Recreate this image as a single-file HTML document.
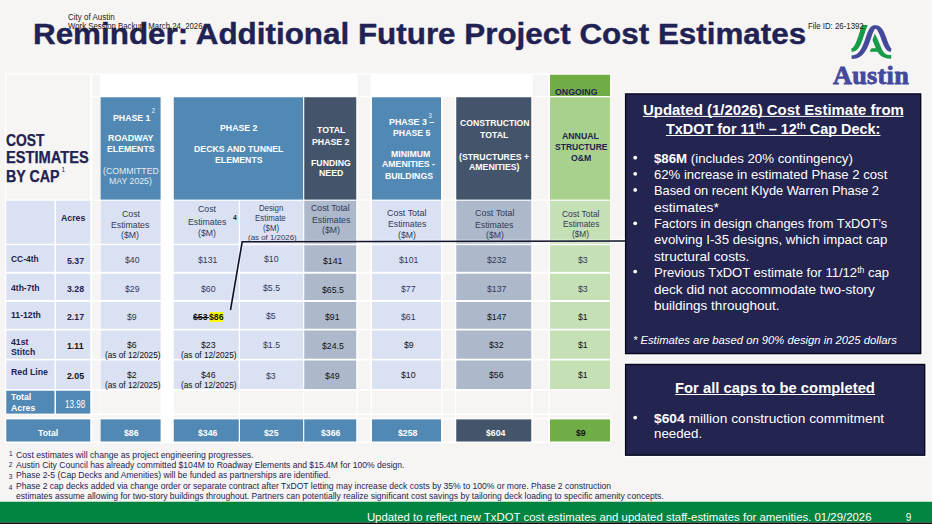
<!DOCTYPE html>
<html lang="en"><head><meta charset="utf-8"><title>Reminder: Additional Future Project Cost Estimates</title>
<style>
html,body{margin:0;padding:0;}
body{width:932px;height:524px;overflow:hidden;background:#f6f5f3;font-family:"Liberation Sans",sans-serif;position:relative;}
#slide{position:absolute;left:0;top:0;width:932px;height:524px;overflow:hidden;background:#f6f5f3;}
.b{position:absolute;}
.t{position:absolute;white-space:nowrap;line-height:1;transform-origin:0 0;}
.t sup{font-size:66%;vertical-align:baseline;position:relative;top:-0.5em;line-height:0;}
</style></head><body><div id="slide">
<svg id="shapes" style="position:absolute;left:0;top:0" width="932" height="524" viewBox="0 0 932 524">
<rect x="5" y="73.5" width="605.3" height="369.5" fill="#ffffff"/>
<rect x="6.25" y="74.75" width="84" height="124.85" fill="#f6f5f3"/>
<rect x="92.2" y="74.75" width="7.8" height="21.25" fill="#f6f5f3"/>
<rect x="357.75" y="74.75" width="12.75" height="21.25" fill="#f6f5f3"/>
<rect x="532.75" y="74.75" width="15.75" height="21.25" fill="#f6f5f3"/>
<rect x="92.2" y="97.25" width="7.8" height="102.35" fill="#f6f5f3"/>
<rect x="357.75" y="97.25" width="12.75" height="102.35" fill="#f6f5f3"/>
<rect x="442.5" y="97.25" width="12.5" height="102.35" fill="#f6f5f3"/>
<rect x="532.75" y="97.25" width="15.75" height="102.35" fill="#f6f5f3"/>
<rect x="92.2" y="200.75" width="7.8" height="43" fill="#f6f5f3"/>
<rect x="357.75" y="200.75" width="12.75" height="43" fill="#f6f5f3"/>
<rect x="442.5" y="200.75" width="12.5" height="43" fill="#f6f5f3"/>
<rect x="532.75" y="200.75" width="15.75" height="43" fill="#f6f5f3"/>
<rect x="92.2" y="245.2" width="7.8" height="26.6" fill="#f6f5f3"/>
<rect x="357.75" y="245.2" width="12.75" height="26.6" fill="#f6f5f3"/>
<rect x="442.5" y="245.2" width="12.5" height="26.6" fill="#f6f5f3"/>
<rect x="532.75" y="245.2" width="15.75" height="26.6" fill="#f6f5f3"/>
<rect x="92.2" y="273.75" width="7.8" height="26.25" fill="#f6f5f3"/>
<rect x="357.75" y="273.75" width="12.75" height="26.25" fill="#f6f5f3"/>
<rect x="442.5" y="273.75" width="12.5" height="26.25" fill="#f6f5f3"/>
<rect x="532.75" y="273.75" width="15.75" height="26.25" fill="#f6f5f3"/>
<rect x="92.2" y="302" width="7.8" height="26.75" fill="#f6f5f3"/>
<rect x="357.75" y="302" width="12.75" height="26.75" fill="#f6f5f3"/>
<rect x="442.5" y="302" width="12.5" height="26.75" fill="#f6f5f3"/>
<rect x="532.75" y="302" width="15.75" height="26.75" fill="#f6f5f3"/>
<rect x="92.2" y="330.5" width="7.8" height="28.25" fill="#f6f5f3"/>
<rect x="357.75" y="330.5" width="12.75" height="28.25" fill="#f6f5f3"/>
<rect x="442.5" y="330.5" width="12.5" height="28.25" fill="#f6f5f3"/>
<rect x="532.75" y="330.5" width="15.75" height="28.25" fill="#f6f5f3"/>
<rect x="92.2" y="360.5" width="7.8" height="28.5" fill="#f6f5f3"/>
<rect x="357.75" y="360.5" width="12.75" height="28.5" fill="#f6f5f3"/>
<rect x="442.5" y="360.5" width="12.5" height="28.5" fill="#f6f5f3"/>
<rect x="532.75" y="360.5" width="15.75" height="28.5" fill="#f6f5f3"/>
<rect x="92.2" y="390.75" width="7.8" height="22.85" fill="#f6f5f3"/>
<rect x="357.75" y="390.75" width="12.75" height="22.85" fill="#f6f5f3"/>
<rect x="442.5" y="390.75" width="12.5" height="22.85" fill="#f6f5f3"/>
<rect x="532.75" y="390.75" width="15.75" height="22.85" fill="#f6f5f3"/>
<rect x="92.2" y="415" width="7.8" height="2.75" fill="#f6f5f3"/>
<rect x="357.75" y="415" width="12.75" height="2.75" fill="#f6f5f3"/>
<rect x="442.5" y="415" width="12.5" height="2.75" fill="#f6f5f3"/>
<rect x="532.75" y="415" width="15.75" height="2.75" fill="#f6f5f3"/>
<rect x="92.2" y="419.4" width="7.8" height="22.1" fill="#f6f5f3"/>
<rect x="357.75" y="419.4" width="12.75" height="22.1" fill="#f6f5f3"/>
<rect x="442.5" y="419.4" width="12.5" height="22.1" fill="#f6f5f3"/>
<rect x="532.75" y="419.4" width="15.75" height="22.1" fill="#f6f5f3"/>
<rect x="100.6" y="390.75" width="60" height="22.85" fill="#f6f5f3"/>
<rect x="173.75" y="390.75" width="65" height="22.85" fill="#f6f5f3"/>
<rect x="240" y="390.75" width="63.1" height="22.85" fill="#f6f5f3"/>
<rect x="304.25" y="390.75" width="52" height="22.85" fill="#f6f5f3"/>
<rect x="372" y="390.75" width="69" height="22.85" fill="#f6f5f3"/>
<rect x="456.25" y="390.75" width="75" height="22.85" fill="#f6f5f3"/>
<rect x="550" y="390.75" width="60" height="22.85" fill="#f6f5f3"/>
<rect x="100.6" y="415" width="60" height="2.75" fill="#f6f5f3"/>
<rect x="173.75" y="415" width="65" height="2.75" fill="#f6f5f3"/>
<rect x="240" y="415" width="63.1" height="2.75" fill="#f6f5f3"/>
<rect x="304.25" y="415" width="52" height="2.75" fill="#f6f5f3"/>
<rect x="372" y="415" width="69" height="2.75" fill="#f6f5f3"/>
<rect x="456.25" y="415" width="75" height="2.75" fill="#f6f5f3"/>
<rect x="550" y="415" width="60" height="2.75" fill="#f6f5f3"/>
<rect x="6.25" y="415" width="84" height="2.75" fill="#f6f5f3"/>
<rect x="100.6" y="97.25" width="60" height="102.35" fill="#5189b4"/>
<rect x="173.75" y="97.25" width="129.35" height="102.35" fill="#5189b4"/>
<rect x="304.25" y="97.25" width="52" height="102.35" fill="#44546a"/>
<rect x="372" y="97.25" width="69" height="102.35" fill="#5189b4"/>
<rect x="456.25" y="97.25" width="75" height="102.35" fill="#44546a"/>
<rect x="550" y="74.75" width="60" height="21.25" fill="#70ad47"/>
<rect x="550" y="97.25" width="60" height="102.35" fill="#a9d18e"/>
<rect x="6.25" y="200.75" width="48.25" height="43" fill="#dae1f3"/>
<rect x="56" y="200.75" width="34.25" height="43" fill="#dae1f3"/>
<rect x="100.6" y="200.75" width="60" height="43" fill="#dae1f3"/>
<rect x="173.75" y="200.75" width="65" height="43" fill="#dae1f3"/>
<rect x="240" y="200.75" width="63.1" height="43" fill="#dae1f3"/>
<rect x="372" y="200.75" width="69" height="43" fill="#dae1f3"/>
<rect x="304.25" y="200.75" width="52" height="43" fill="#adb9ca"/>
<rect x="456.25" y="200.75" width="75" height="43" fill="#adb9ca"/>
<rect x="550" y="200.75" width="60" height="43" fill="#c5e0b4"/>
<rect x="6.25" y="245.2" width="48.25" height="26.6" fill="#dae1f3"/>
<rect x="56" y="245.2" width="34.25" height="26.6" fill="#dae1f3"/>
<rect x="100.6" y="245.2" width="60" height="26.6" fill="#dae1f3"/>
<rect x="173.75" y="245.2" width="65" height="26.6" fill="#dae1f3"/>
<rect x="240" y="245.2" width="63.1" height="26.6" fill="#dae1f3"/>
<rect x="372" y="245.2" width="69" height="26.6" fill="#dae1f3"/>
<rect x="304.25" y="245.2" width="52" height="26.6" fill="#adb9ca"/>
<rect x="456.25" y="245.2" width="75" height="26.6" fill="#adb9ca"/>
<rect x="550" y="245.2" width="60" height="26.6" fill="#c5e0b4"/>
<rect x="6.25" y="273.75" width="48.25" height="26.25" fill="#dae1f3"/>
<rect x="56" y="273.75" width="34.25" height="26.25" fill="#dae1f3"/>
<rect x="100.6" y="273.75" width="60" height="26.25" fill="#dae1f3"/>
<rect x="173.75" y="273.75" width="65" height="26.25" fill="#dae1f3"/>
<rect x="240" y="273.75" width="63.1" height="26.25" fill="#dae1f3"/>
<rect x="372" y="273.75" width="69" height="26.25" fill="#dae1f3"/>
<rect x="304.25" y="273.75" width="52" height="26.25" fill="#adb9ca"/>
<rect x="456.25" y="273.75" width="75" height="26.25" fill="#adb9ca"/>
<rect x="550" y="273.75" width="60" height="26.25" fill="#c5e0b4"/>
<rect x="6.25" y="302" width="48.25" height="26.75" fill="#dae1f3"/>
<rect x="56" y="302" width="34.25" height="26.75" fill="#dae1f3"/>
<rect x="100.6" y="302" width="60" height="26.75" fill="#dae1f3"/>
<rect x="173.75" y="302" width="65" height="26.75" fill="#dae1f3"/>
<rect x="240" y="302" width="63.1" height="26.75" fill="#dae1f3"/>
<rect x="372" y="302" width="69" height="26.75" fill="#dae1f3"/>
<rect x="304.25" y="302" width="52" height="26.75" fill="#adb9ca"/>
<rect x="456.25" y="302" width="75" height="26.75" fill="#adb9ca"/>
<rect x="550" y="302" width="60" height="26.75" fill="#c5e0b4"/>
<rect x="6.25" y="330.5" width="48.25" height="28.25" fill="#dae1f3"/>
<rect x="56" y="330.5" width="34.25" height="28.25" fill="#dae1f3"/>
<rect x="100.6" y="330.5" width="60" height="28.25" fill="#dae1f3"/>
<rect x="173.75" y="330.5" width="65" height="28.25" fill="#dae1f3"/>
<rect x="240" y="330.5" width="63.1" height="28.25" fill="#dae1f3"/>
<rect x="372" y="330.5" width="69" height="28.25" fill="#dae1f3"/>
<rect x="304.25" y="330.5" width="52" height="28.25" fill="#adb9ca"/>
<rect x="456.25" y="330.5" width="75" height="28.25" fill="#adb9ca"/>
<rect x="550" y="330.5" width="60" height="28.25" fill="#c5e0b4"/>
<rect x="6.25" y="360.5" width="48.25" height="28.5" fill="#dae1f3"/>
<rect x="56" y="360.5" width="34.25" height="28.5" fill="#dae1f3"/>
<rect x="100.6" y="360.5" width="60" height="28.5" fill="#dae1f3"/>
<rect x="173.75" y="360.5" width="65" height="28.5" fill="#dae1f3"/>
<rect x="240" y="360.5" width="63.1" height="28.5" fill="#dae1f3"/>
<rect x="372" y="360.5" width="69" height="28.5" fill="#dae1f3"/>
<rect x="304.25" y="360.5" width="52" height="28.5" fill="#adb9ca"/>
<rect x="456.25" y="360.5" width="75" height="28.5" fill="#adb9ca"/>
<rect x="550" y="360.5" width="60" height="28.5" fill="#c5e0b4"/>
<rect x="6.25" y="390.75" width="48.25" height="22.85" fill="#5189b4"/>
<rect x="56" y="390.75" width="34.25" height="22.85" fill="#5189b4"/>
<rect x="6.25" y="419.4" width="84" height="22.1" fill="#5189b4"/>
<rect x="100.6" y="419.4" width="60" height="22.1" fill="#5189b4"/>
<rect x="173.75" y="419.4" width="65" height="22.1" fill="#5189b4"/>
<rect x="240" y="419.4" width="63.1" height="22.1" fill="#5189b4"/>
<rect x="304.25" y="419.4" width="52" height="22.1" fill="#5189b4"/>
<rect x="372" y="419.4" width="69" height="22.1" fill="#5189b4"/>
<rect x="456.25" y="419.4" width="75" height="22.1" fill="#44546a"/>
<rect x="550" y="419.4" width="60" height="22.1" fill="#70ad47"/>
<rect x="623.65" y="91.95" width="299" height="263.6" fill="#ffffff"/>
<rect x="624.9" y="93.2" width="296.5" height="261.1" fill="#07081f"/>
<rect x="626.3" y="94.6" width="293.7" height="258.3" fill="#23244f"/>
<rect x="623.65" y="362.5" width="303" height="94.65" fill="#ffffff"/>
<rect x="624.9" y="363.75" width="300.5" height="92.15" fill="#07081f"/>
<rect x="626.3" y="365.15" width="297.7" height="89.35" fill="#23244f"/>
<rect x="642.8" y="115.9" width="260.8" height="1" fill="#ffffff"/>
<rect x="665.9" y="135" width="214.6" height="1" fill="#ffffff"/>
<ellipse cx="635.2" cy="157.7" rx="1.9" ry="1.9" fill="#ffffff"/>
<ellipse cx="635.2" cy="173.8" rx="1.9" ry="1.9" fill="#ffffff"/>
<ellipse cx="635.2" cy="189.9" rx="1.9" ry="1.9" fill="#ffffff"/>
<ellipse cx="635.2" cy="223.3" rx="1.9" ry="1.9" fill="#ffffff"/>
<ellipse cx="635.2" cy="271.6" rx="1.9" ry="1.9" fill="#ffffff"/>
<rect x="675.2" y="394" width="199.9" height="1" fill="#ffffff"/>
<ellipse cx="635.2" cy="417.6" rx="1.9" ry="1.9" fill="#ffffff"/>
<rect x="0" y="501.75" width="932" height="20.75" fill="#00843f"/>
<rect x="0" y="522.5" width="932" height="1.5" fill="#111111"/>
</svg>
<svg style="position:absolute;left:0;top:0" width="932" height="524" viewBox="0 0 932 524">
<polyline points="230.5,310 242.2,241.8 625,241.0" fill="none" stroke="#ffffff" stroke-opacity="0.3" stroke-width="3.8"/>
<polyline points="610.3,241.03 625,241.0" fill="none" stroke="#ffffff" stroke-width="4.0"/>
<polyline points="230.5,310 242.2,241.8 626,241.0" fill="none" stroke="#10112a" stroke-width="1.6"/>
<clipPath id="lgclip"><rect x="845" y="25" width="55" height="40"/></clipPath>
<g clip-path="url(#lgclip)">
<path d="M851.22,48.25 L851.98,48.16 L852.49,47.90 L852.95,47.51 L853.41,47.00 L853.87,46.38 L854.36,45.63 L854.86,44.76 L855.36,43.77 L855.87,42.67 L856.38,41.47 L856.88,40.19 L857.38,38.83 L857.87,37.41 L858.36,35.94 L858.85,34.44 L859.34,32.91 L859.85,31.38 L860.36,29.84 L860.90,28.32 L861.45,26.82 L862.03,25.36 L862.65,23.94 L863.31,22.58 L863.98,21.34 L868.42,23.66 L867.84,24.81 L867.32,26.00 L866.81,27.28 L866.30,28.64 L865.80,30.05 L865.30,31.51 L864.81,33.01 L864.31,34.53 L863.82,36.06 L863.31,37.59 L862.79,39.11 L862.25,40.61 L861.69,42.07 L861.09,43.48 L860.46,44.83 L859.78,46.12 L859.03,47.33 L858.22,48.44 L857.31,49.44 L856.30,50.29 L855.18,50.98 L853.97,51.47 L852.71,51.76 L851.58,51.85Z" fill="#169b48"/>
<path d="M871.51,28.15 L872.21,29.16 L872.99,30.38 L873.78,31.74 L874.60,33.21 L875.42,34.78 L876.24,36.42 L877.05,38.10 L877.84,39.80 L878.61,41.50 L879.33,43.16 L880.00,44.75 L880.59,46.24 L880.94,47.12 L881.27,47.93 L881.60,48.68 L881.93,49.37 L882.26,50.00 L882.58,50.58 L882.90,51.12 L883.22,51.61 L883.54,52.06 L883.87,52.47 L884.20,52.85 L884.55,53.19 L884.92,53.51 L885.31,53.80 L885.73,54.05 L886.18,54.28 L886.67,54.48 L887.20,54.66 L887.77,54.80 L888.37,54.91 L889.02,54.99 L889.70,55.05 L890.43,55.09 L891.22,55.10 L891.18,58.70 L890.33,58.69 L889.48,58.65 L888.66,58.59 L887.87,58.51 L887.09,58.40 L886.33,58.25 L885.58,58.07 L884.85,57.86 L884.14,57.61 L883.43,57.32 L882.75,56.99 L882.08,56.61 L881.42,56.18 L880.79,55.69 L880.19,55.16 L879.61,54.58 L879.06,53.94 L878.53,53.26 L878.03,52.53 L877.55,51.75 L877.09,50.92 L876.65,50.05 L876.22,49.12 L875.81,48.16 L875.23,46.69 L874.60,45.15 L873.92,43.55 L873.20,41.91 L872.45,40.26 L871.69,38.63 L870.92,37.05 L870.16,35.54 L869.43,34.14 L868.73,32.88 L868.10,31.79 L867.49,30.85Z" fill="#169b48"/>
<path d="M871.3,48.15 L880,48.15 L881,51.75 L869.7,51.75Z" fill="#169b48"/>
<path d="M851.32,53.41 L853.11,53.27 L854.39,52.91 L855.48,52.35 L856.45,51.62 L857.34,50.73 L858.18,49.68 L859.00,48.48 L859.78,47.12 L860.53,45.62 L861.24,44.01 L861.92,42.30 L862.57,40.53 L863.20,38.71 L863.82,36.88 L864.43,35.06 L865.07,33.27 L865.75,31.52 L866.49,29.84 L867.34,28.23 L868.38,26.71 L869.68,25.33 L871.34,24.19 L873.35,23.45 L875.43,23.20 L877.37,23.38 L879.15,23.90 L880.72,24.73 L882.06,25.77 L883.18,26.97 L884.14,28.26 L884.97,29.63 L885.71,31.05 L886.38,32.50 L886.99,33.97 L887.57,35.45 L888.11,36.92 L888.64,38.35 L889.14,39.73 L889.63,41.04 L890.10,42.25 L890.56,43.33 L890.98,44.26 L891.35,45.01 L891.62,45.55 L891.76,45.90 L891.70,46.08 L891.47,46.17 L891.74,46.22 L890.66,53.78 L889.32,53.60 L887.57,53.02 L886.09,52.12 L884.89,51.04 L883.91,49.84 L883.08,48.56 L882.36,47.22 L881.71,45.83 L881.11,44.41 L880.55,42.96 L880.01,41.52 L879.49,40.08 L878.98,38.68 L878.47,37.33 L877.97,36.06 L877.48,34.88 L877.00,33.83 L876.55,32.92 L876.15,32.19 L875.83,31.63 L875.62,31.25 L875.53,31.00 L875.53,30.86 L875.57,30.80 L875.63,30.86 L875.81,31.00 L875.81,31.26 L875.59,31.76 L875.22,32.54 L874.76,33.60 L874.26,34.90 L873.71,36.39 L873.15,38.05 L872.54,39.84 L871.90,41.72 L871.20,43.67 L870.44,45.67 L869.58,47.67 L868.61,49.67 L867.50,51.62 L866.24,53.51 L864.78,55.28 L863.10,56.90 L861.19,58.31 L859.07,59.46 L856.74,60.31 L854.24,60.82 L851.88,60.99Z" fill="#f6f5f3"/>
<path d="M851.47,55.40 L853.41,55.25 L854.99,54.81 L856.38,54.13 L857.61,53.25 L858.70,52.19 L859.71,50.98 L860.64,49.62 L861.51,48.13 L862.31,46.52 L863.07,44.81 L863.78,43.04 L864.45,41.21 L865.09,39.37 L865.71,37.52 L866.33,35.71 L866.95,33.95 L867.60,32.26 L868.31,30.66 L869.10,29.19 L870.02,27.86 L871.12,26.72 L872.44,25.86 L873.94,25.36 L875.47,25.20 L876.90,25.32 L878.24,25.68 L879.49,26.30 L880.60,27.14 L881.58,28.16 L882.43,29.31 L883.20,30.56 L883.89,31.89 L884.53,33.28 L885.13,34.71 L885.69,36.16 L886.23,37.61 L886.76,39.04 L887.27,40.44 L887.77,41.77 L888.26,43.03 L888.75,44.19 L889.22,45.21 L889.67,46.10 L890.07,46.82 L890.41,47.38 L890.68,47.80 L890.91,48.09 L891.46,48.20 L890.94,51.80 L889.87,51.68 L888.59,51.30 L887.44,50.64 L886.44,49.78 L885.59,48.75 L884.84,47.60 L884.17,46.36 L883.55,45.04 L882.97,43.67 L882.42,42.26 L881.89,40.83 L881.37,39.39 L880.85,37.98 L880.33,36.60 L879.81,35.28 L879.29,34.04 L878.77,32.90 L878.25,31.88 L877.75,31.00 L877.28,30.26 L876.85,29.68 L876.44,29.22 L876.01,28.91 L875.53,28.80 L875.04,28.95 L874.71,29.33 L874.37,29.87 L873.96,30.62 L873.47,31.58 L872.94,32.77 L872.40,34.16 L871.83,35.71 L871.25,37.40 L870.65,39.20 L870.01,41.07 L869.32,42.99 L868.58,44.93 L867.75,46.87 L866.82,48.77 L865.78,50.62 L864.59,52.36 L863.25,53.98 L861.73,55.44 L860.04,56.68 L858.17,57.67 L856.13,58.40 L853.95,58.85 L851.73,59.00Z" fill="#44499c"/>
</g>
</svg>
<div class="t" id="austin" style="left:833.1px;top:62.86px;font-family:'Liberation Serif',serif;font-weight:700;font-size:25.6px;color:#44499c;-webkit-text-stroke:0.8px #44499c;letter-spacing:0.3px;transform:scaleX(1.022);">Austin</div>
<div class="t" id="t0" style="left:32.8px;top:19px;font-size:29.9px;color:#1f2252;font-weight:700;transform:scaleX(1.0501);-webkit-text-stroke:0.4px #1f2252;">Reminder: Additional Future Project Cost Estimates</div>
<div class="t" id="t1" style="left:67.5px;top:13px;font-size:8.36px;color:#1a1a1a;transform:scaleX(0.9569);">City of Austin</div>
<div class="t" id="t2" style="left:67.5px;top:22px;font-size:8.36px;color:#1a1a1a;transform:scaleX(0.9334);">Work Session Backup: March 24, 2026</div>
<div class="t" id="t3" style="left:807.6px;top:22px;font-size:8.36px;color:#1a1a1a;transform:scaleX(0.9381);">File ID: 26-1392</div>
<div class="t" id="t4" style="left:5.8px;top:133px;font-size:16px;color:#1f2252;font-weight:700;transform:scaleX(0.8661);-webkit-text-stroke:0.25px #1f2252;">COST</div>
<div class="t" id="t5" style="left:5.5px;top:150px;font-size:16px;color:#1f2252;font-weight:700;transform:scaleX(0.9162);-webkit-text-stroke:0.25px #1f2252;">ESTIMATES</div>
<div class="t" id="t6" style="left:5.5px;top:169px;font-size:16px;color:#1f2252;font-weight:700;transform:scaleX(0.8908);-webkit-text-stroke:0.25px #1f2252;">BY CAP</div>
<div class="t" id="t7" style="left:61.49px;top:167px;font-size:6.5px;color:#1f2252;">1</div>
<div class="t" id="t8" style="left:112.51px;top:114px;font-size:9.13px;color:#ffffff;font-weight:700;transform:scaleX(0.9569);">PHASE 1</div>
<div class="t" id="t9" style="left:151.59px;top:108px;font-size:6.5px;color:#e4edf5;">2</div>
<div class="t" id="t10" style="left:107.85px;top:134px;font-size:9.13px;color:#ffffff;font-weight:700;transform:scaleX(0.9716);">ROADWAY</div>
<div class="t" id="t11" style="left:106.83px;top:145px;font-size:9.13px;color:#ffffff;font-weight:700;transform:scaleX(0.9569);">ELEMENTS</div>
<div class="t" id="t12" style="left:102.71px;top:167px;font-size:9.13px;color:#e3ebf3;transform:scaleX(0.9569);">(COMMITTED</div>
<div class="t" id="t13" style="left:109.16px;top:177px;font-size:9.13px;color:#e3ebf3;transform:scaleX(0.9569);">MAY 2025)</div>
<div class="t" id="t14" style="left:219.73px;top:124px;font-size:9.13px;color:#ffffff;font-weight:700;transform:scaleX(0.9569);">PHASE 2</div>
<div class="t" id="t15" style="left:193.71px;top:145px;font-size:9.13px;color:#ffffff;font-weight:700;transform:scaleX(0.9569);">DECKS AND TUNNEL</div>
<div class="t" id="t16" style="left:214.65px;top:156px;font-size:9.13px;color:#ffffff;font-weight:700;transform:scaleX(0.9569);">ELEMENTS</div>
<div class="t" id="t17" style="left:316.6px;top:126px;font-size:9.13px;color:#ffffff;font-weight:700;transform:scaleX(0.9569);">TOTAL</div>
<div class="t" id="t18" style="left:312.06px;top:138px;font-size:9.13px;color:#ffffff;font-weight:700;transform:scaleX(0.9569);">PHASE 2</div>
<div class="t" id="t19" style="left:310.86px;top:159px;font-size:9.13px;color:#ffffff;font-weight:700;transform:scaleX(0.9569);">FUNDING</div>
<div class="t" id="t20" style="left:318.62px;top:169px;font-size:9.13px;color:#ffffff;font-weight:700;transform:scaleX(0.9569);">NEED</div>
<div class="t" id="t21" style="left:388.7px;top:118px;font-size:9.13px;color:#ffffff;font-weight:700;transform:scaleX(0.9706);">PHASE 3 &ndash;</div>
<div class="t" id="t22" style="left:428.19px;top:113px;font-size:6.5px;color:#e4edf5;">3</div>
<div class="t" id="t23" style="left:392.66px;top:129px;font-size:9.13px;color:#ffffff;font-weight:700;transform:scaleX(0.9569);">PHASE 5</div>
<div class="t" id="t24" style="left:391.45px;top:150px;font-size:9.13px;color:#ffffff;font-weight:700;transform:scaleX(0.9569);">MINIMUM</div>
<div class="t" id="t25" style="left:382.46px;top:160px;font-size:9.13px;color:#ffffff;font-weight:700;transform:scaleX(0.9569);">AMENITIES -</div>
<div class="t" id="t26" style="left:384.89px;top:172px;font-size:9.13px;color:#ffffff;font-weight:700;transform:scaleX(0.9569);">BUILDINGS</div>
<div class="t" id="t27" style="left:460px;top:119px;font-size:9.13px;color:#ffffff;font-weight:700;transform:scaleX(0.9454);">CONSTRUCTION</div>
<div class="t" id="t28" style="left:479.85px;top:131px;font-size:9.13px;color:#ffffff;font-weight:700;transform:scaleX(0.9569);">TOTAL</div>
<div class="t" id="t29" style="left:459.44px;top:153px;font-size:9.13px;color:#ffffff;font-weight:700;transform:scaleX(0.9569);">(STRUCTURES +</div>
<div class="t" id="t30" style="left:469.27px;top:163px;font-size:9.13px;color:#ffffff;font-weight:700;transform:scaleX(0.9569);">AMENITIES)</div>
<div class="t" id="t31" style="left:554.5px;top:88px;font-size:9.13px;color:#1f2252;font-weight:700;transform:scaleX(0.9635);">ONGOING</div>
<div class="t" id="t32" style="left:562.31px;top:132px;font-size:9.13px;color:#1f2252;font-weight:700;transform:scaleX(0.9569);">ANNUAL</div>
<div class="t" id="t33" style="left:554.5px;top:143px;font-size:9.13px;color:#1f2252;font-weight:700;transform:scaleX(0.9328);">STRUCTURE</div>
<div class="t" id="t34" style="left:570.56px;top:154px;font-size:9.13px;color:#1f2252;font-weight:700;transform:scaleX(0.9569);">O&amp;M</div>
<div class="t" id="t35" style="left:60.96px;top:214px;font-size:9.13px;color:#1f2252;font-weight:700;transform:scaleX(0.9569);">Acres</div>
<div class="t" id="t36" style="left:121.77px;top:210px;font-size:9.13px;color:#333a5c;transform:scaleX(0.9569);">Cost</div>
<div class="t" id="t37" style="left:111.08px;top:221px;font-size:9.13px;color:#333a5c;transform:scaleX(0.9569);">Estimates</div>
<div class="t" id="t38" style="left:121.27px;top:231px;font-size:9.13px;color:#333a5c;transform:scaleX(0.9569);">($M)</div>
<div class="t" id="t39" style="left:197.77px;top:205px;font-size:9.13px;color:#333a5c;transform:scaleX(0.9569);">Cost</div>
<div class="t" id="t40" style="left:187.83px;top:218px;font-size:9.13px;color:#333a5c;transform:scaleX(0.9569);">Estimates</div>
<div class="t" id="t41" style="left:198.02px;top:229px;font-size:9.13px;color:#333a5c;transform:scaleX(0.9569);">($M)</div>
<div class="t" id="t42" style="left:233px;top:215px;font-size:6.7px;color:#1a1a2a;font-weight:700;">4</div>
<div class="t" id="t43" style="left:259.48px;top:205px;font-size:8.24px;color:#333a5c;transform:scaleX(0.9458);">Design</div>
<div class="t" id="t44" style="left:255.02px;top:215px;font-size:8.24px;color:#333a5c;transform:scaleX(0.9595);">Estimate</div>
<div class="t" id="t45" style="left:263.3px;top:225px;font-size:8.24px;color:#333a5c;transform:scaleX(0.9565);">($M)</div>
<div class="t" id="t46" style="left:247.52px;top:234px;font-size:8.03px;color:#333a5c;transform:scaleX(0.9855);">(as of 1/2026)</div>
<div class="t" id="t47" style="left:311.41px;top:204px;font-size:9.13px;color:#333a5c;transform:scaleX(0.9569);">Cost Total</div>
<div class="t" id="t48" style="left:311.83px;top:216px;font-size:9.13px;color:#333a5c;transform:scaleX(0.9569);">Estimates</div>
<div class="t" id="t49" style="left:322.02px;top:226px;font-size:9.13px;color:#333a5c;transform:scaleX(0.9569);">($M)</div>
<div class="t" id="t50" style="left:386.75px;top:209px;font-size:9.13px;color:#333a5c;transform:scaleX(0.9772);">Cost Total</div>
<div class="t" id="t51" style="left:387.83px;top:220px;font-size:9.13px;color:#333a5c;transform:scaleX(0.9569);">Estimates</div>
<div class="t" id="t52" style="left:398.02px;top:231px;font-size:9.13px;color:#333a5c;transform:scaleX(0.9569);">($M)</div>
<div class="t" id="t53" style="left:474.5px;top:209px;font-size:9.13px;color:#333a5c;transform:scaleX(0.9772);">Cost Total</div>
<div class="t" id="t54" style="left:475.33px;top:221px;font-size:9.13px;color:#333a5c;transform:scaleX(0.9569);">Estimates</div>
<div class="t" id="t55" style="left:485.52px;top:231px;font-size:9.13px;color:#333a5c;transform:scaleX(0.9569);">($M)</div>
<div class="t" id="t56" style="left:561.75px;top:210px;font-size:8.67px;color:#333a5c;transform:scaleX(0.9780);">Cost Total</div>
<div class="t" id="t57" style="left:562.56px;top:220px;font-size:8.67px;color:#333a5c;transform:scaleX(0.9569);">Estimates</div>
<div class="t" id="t58" style="left:572.23px;top:230px;font-size:8.67px;color:#333a5c;transform:scaleX(0.9569);">($M)</div>
<div class="t" id="t59" style="left:11.25px;top:255px;font-size:9.13px;color:#1f2252;font-weight:700;transform:scaleX(0.9229);">CC-4th</div>
<div class="t" id="t60" style="left:66.5px;top:257px;font-size:9.13px;color:#1f2252;font-weight:700;transform:scaleX(0.9569);">5.37</div>
<div class="t" id="t61" style="left:124.91px;top:256px;font-size:9.13px;color:#333a5c;transform:scaleX(0.9569);">$40</div>
<div class="t" id="t62" style="left:198.48px;top:256px;font-size:9.13px;color:#333a5c;transform:scaleX(0.9569);">$131</div>
<div class="t" id="t63" style="left:263.96px;top:255px;font-size:9.13px;color:#333a5c;transform:scaleX(0.9569);">$10</div>
<div class="t" id="t64" style="left:322.98px;top:257px;font-size:9.13px;color:#111111;transform:scaleX(0.9569);">$141</div>
<div class="t" id="t65" style="left:399.03px;top:256px;font-size:9.13px;color:#333a5c;transform:scaleX(0.9569);">$101</div>
<div class="t" id="t66" style="left:486.58px;top:256px;font-size:9.13px;color:#333a5c;transform:scaleX(0.9569);">$232</div>
<div class="t" id="t67" style="left:577.54px;top:256px;font-size:9.13px;color:#333a5c;transform:scaleX(0.9569);">$3</div>
<div class="t" id="t68" style="left:11.25px;top:284px;font-size:9.13px;color:#1f2252;font-weight:700;transform:scaleX(0.9401);">4th-7th</div>
<div class="t" id="t69" style="left:66.5px;top:285px;font-size:9.13px;color:#1f2252;font-weight:700;transform:scaleX(0.9569);">3.28</div>
<div class="t" id="t70" style="left:124.91px;top:285px;font-size:9.13px;color:#333a5c;transform:scaleX(0.9569);">$29</div>
<div class="t" id="t71" style="left:200.91px;top:285px;font-size:9.13px;color:#333a5c;transform:scaleX(0.9569);">$60</div>
<div class="t" id="t72" style="left:262.75px;top:284px;font-size:9.13px;color:#333a5c;transform:scaleX(0.9569);">$5.5</div>
<div class="t" id="t73" style="left:321.77px;top:286px;font-size:9.13px;color:#111111;transform:scaleX(0.9569);">$65.5</div>
<div class="t" id="t74" style="left:401.46px;top:285px;font-size:9.13px;color:#333a5c;transform:scaleX(0.9569);">$77</div>
<div class="t" id="t75" style="left:486.58px;top:285px;font-size:9.13px;color:#333a5c;transform:scaleX(0.9569);">$137</div>
<div class="t" id="t76" style="left:577.54px;top:285px;font-size:9.13px;color:#333a5c;transform:scaleX(0.9569);">$3</div>
<div class="t" id="t77" style="left:11.25px;top:311px;font-size:9.13px;color:#1f2252;font-weight:700;transform:scaleX(0.9474);">11-12th</div>
<div class="t" id="t78" style="left:66.5px;top:313px;font-size:9.13px;color:#1f2252;font-weight:700;transform:scaleX(0.9569);">2.17</div>
<div class="t" id="t79" style="left:127.34px;top:313px;font-size:9.13px;color:#333a5c;transform:scaleX(0.9569);">$9</div>
<div class="t" id="t80" style="left:266.39px;top:312px;font-size:9.13px;color:#333a5c;transform:scaleX(0.9569);">$5</div>
<div class="t" id="t81" style="left:325.41px;top:313px;font-size:9.13px;color:#111111;transform:scaleX(0.9569);">$91</div>
<div class="t" id="t82" style="left:401.46px;top:313px;font-size:9.13px;color:#333a5c;transform:scaleX(0.9569);">$61</div>
<div class="t" id="t83" style="left:486.58px;top:313px;font-size:9.13px;color:#111111;transform:scaleX(0.9569);">$147</div>
<div class="t" id="t84" style="left:577.54px;top:313px;font-size:9.13px;color:#111111;transform:scaleX(0.9569);">$1</div>
<div class="t" id="t85" style="left:66.74px;top:342px;font-size:9.13px;color:#111111;font-weight:700;transform:scaleX(0.9569);">1.11</div>
<div class="t" id="t86" style="left:127.34px;top:341px;font-size:9.13px;color:#111111;transform:scaleX(0.9569);">$6</div>
<div class="t" id="t87" style="left:200.91px;top:341px;font-size:9.13px;color:#111111;transform:scaleX(0.9569);">$23</div>
<div class="t" id="t88" style="left:262.75px;top:341px;font-size:9.13px;color:#333a5c;transform:scaleX(0.9569);">$1.5</div>
<div class="t" id="t89" style="left:321.77px;top:342px;font-size:9.13px;color:#111111;transform:scaleX(0.9569);">$24.5</div>
<div class="t" id="t90" style="left:403.89px;top:341px;font-size:9.13px;color:#111111;transform:scaleX(0.9569);">$9</div>
<div class="t" id="t91" style="left:489.01px;top:341px;font-size:9.13px;color:#111111;transform:scaleX(0.9569);">$32</div>
<div class="t" id="t92" style="left:577.54px;top:341px;font-size:9.13px;color:#111111;transform:scaleX(0.9569);">$1</div>
<div class="t" id="t93" style="left:66.5px;top:372px;font-size:9.13px;color:#111111;font-weight:700;transform:scaleX(0.9569);">2.05</div>
<div class="t" id="t94" style="left:127.34px;top:371px;font-size:9.13px;color:#111111;transform:scaleX(0.9569);">$2</div>
<div class="t" id="t95" style="left:200.91px;top:371px;font-size:9.13px;color:#111111;transform:scaleX(0.9569);">$46</div>
<div class="t" id="t96" style="left:266.39px;top:372px;font-size:9.13px;color:#333a5c;transform:scaleX(0.9569);">$3</div>
<div class="t" id="t97" style="left:325.41px;top:372px;font-size:9.13px;color:#111111;transform:scaleX(0.9569);">$49</div>
<div class="t" id="t98" style="left:401.46px;top:371px;font-size:9.13px;color:#111111;transform:scaleX(0.9569);">$10</div>
<div class="t" id="t99" style="left:489.01px;top:371px;font-size:9.13px;color:#111111;transform:scaleX(0.9569);">$56</div>
<div class="t" id="t100" style="left:577.54px;top:371px;font-size:9.13px;color:#111111;transform:scaleX(0.9569);">$1</div>
<div class="t" id="t101" style="left:11.25px;top:338px;font-size:9.13px;color:#1f2252;font-weight:700;transform:scaleX(0.9569);">41st</div>
<div class="t" id="t102" style="left:11.25px;top:348px;font-size:9.13px;color:#1f2252;font-weight:700;transform:scaleX(0.9569);">Stitch</div>
<div class="t" id="t103" style="left:11.25px;top:368px;font-size:9.13px;color:#1f2252;font-weight:700;transform:scaleX(0.9569);">Red Line</div>
<div class="t" id="t104" style="left:104.75px;top:351px;font-size:9.13px;color:#111111;transform:scaleX(0.9040);">(as of 12/2025)</div>
<div class="t" id="t105" style="left:180.5px;top:351px;font-size:9.13px;color:#111111;transform:scaleX(0.9040);">(as of 12/2025)</div>
<div class="t" id="t106" style="left:104.75px;top:381px;font-size:9.13px;color:#111111;transform:scaleX(0.9040);">(as of 12/2025)</div>
<div class="t" id="t107" style="left:180.5px;top:381px;font-size:9.13px;color:#111111;transform:scaleX(0.9040);">(as of 12/2025)</div>
<div class="t" id="t108" style="left:192.6px;top:313px;font-size:9.13px;color:#111111;font-weight:700;transform:scaleX(0.9569);"><span style="text-decoration:line-through">$53&nbsp;</span></div>
<div class="t" id="t109" style="left:209.1px;top:313px;font-size:9.13px;color:#111111;font-weight:700;transform:scaleX(0.9569);"><span style="background:#ffff00">$86</span></div>
<div class="t" id="t110" style="left:11.25px;top:393px;font-size:9.13px;color:#ffffff;font-weight:700;transform:scaleX(0.9569);">Total</div>
<div class="t" id="t111" style="left:11.25px;top:404px;font-size:9.13px;color:#ffffff;font-weight:700;transform:scaleX(0.9569);">Acres</div>
<div class="t" id="t112" style="left:64.85px;top:400px;font-size:10.15px;color:#ffffff;transform:scaleX(0.8010);">13.98</div>
<div class="t" id="t113" style="left:37.99px;top:429px;font-size:9.13px;color:#ffffff;font-weight:700;transform:scaleX(0.9569);">Total</div>
<div class="t" id="t114" style="left:123.91px;top:429px;font-size:9.13px;color:#ffffff;font-weight:700;transform:scaleX(0.9569);">$86</div>
<div class="t" id="t115" style="left:198.38px;top:429px;font-size:9.13px;color:#ffffff;font-weight:700;transform:scaleX(0.9569);">$346</div>
<div class="t" id="t116" style="left:264.31px;top:429px;font-size:9.13px;color:#ffffff;font-weight:700;transform:scaleX(0.9569);">$25</div>
<div class="t" id="t117" style="left:321.48px;top:429px;font-size:9.13px;color:#ffffff;font-weight:700;transform:scaleX(0.9569);">$366</div>
<div class="t" id="t118" style="left:397.68px;top:429px;font-size:9.13px;color:#ffffff;font-weight:700;transform:scaleX(0.9569);">$258</div>
<div class="t" id="t119" style="left:485.68px;top:429px;font-size:9.13px;color:#ffffff;font-weight:700;transform:scaleX(0.9569);">$604</div>
<div class="t" id="t120" style="left:576.34px;top:429px;font-size:9.13px;color:#111111;font-weight:700;transform:scaleX(0.9569);">$9</div>
<div class="t" id="t121" style="left:642.8px;top:103px;font-size:14.5px;color:#ffffff;font-weight:700;transform:scaleX(1.0308);">Updated (1/2026) Cost Estimate from</div>
<div class="t" id="t122" style="left:666.3px;top:122px;font-size:14.5px;color:#ffffff;font-weight:700;transform:scaleX(0.9948);">TxDOT for 11<sup>th</sup> &ndash; 12<sup>th</sup> Cap Deck:</div>
<div class="t" id="t123" style="left:654.3px;top:153px;font-size:12.4px;color:#ffffff;transform:scaleX(1.0690);"><b>$86M</b> (includes 20% contingency)</div>
<div class="t" id="t124" style="left:654.3px;top:169px;font-size:12.4px;color:#ffffff;transform:scaleX(1.0585);">62% increase in estimated Phase 2 cost</div>
<div class="t" id="t125" style="left:654.3px;top:185px;font-size:12.4px;color:#ffffff;transform:scaleX(1.0360);">Based on recent Klyde Warren Phase 2</div>
<div class="t" id="t126" style="left:654.3px;top:202px;font-size:12.4px;color:#ffffff;transform:scaleX(1.1217);">estimates*</div>
<div class="t" id="t127" style="left:654.3px;top:218px;font-size:12.4px;color:#ffffff;transform:scaleX(1.0381);">Factors in design changes from TxDOT&rsquo;s</div>
<div class="t" id="t128" style="left:654.3px;top:234px;font-size:12.4px;color:#ffffff;transform:scaleX(1.0686);">evolving I-35 designs, which impact cap</div>
<div class="t" id="t129" style="left:654.3px;top:251px;font-size:12.4px;color:#ffffff;transform:scaleX(1.0995);">structural costs.</div>
<div class="t" id="t130" style="left:654.3px;top:267px;font-size:12.4px;color:#ffffff;transform:scaleX(1.0534);">Previous TxDOT estimate for 11/12<sup>th</sup> cap</div>
<div class="t" id="t131" style="left:654.3px;top:284px;font-size:12.4px;color:#ffffff;transform:scaleX(1.0947);">deck did not accommodate two-story</div>
<div class="t" id="t132" style="left:654.3px;top:300px;font-size:12.4px;color:#ffffff;transform:scaleX(1.0909);">buildings throughout.</div>
<div class="t" id="t133" style="left:632.7px;top:334px;font-size:11.7px;color:#ffffff;font-style:italic;transform:scaleX(0.9621);">* Estimates are based on 90% design in 2025 dollars</div>
<div class="t" id="t134" style="left:675.2px;top:381px;font-size:14.5px;color:#ffffff;font-weight:700;transform:scaleX(1.0210);">For all caps to be completed</div>
<div class="t" id="t135" style="left:654.3px;top:413px;font-size:12.4px;color:#ffffff;transform:scaleX(1.1100);"><b>$604</b> million construction commitment</div>
<div class="t" id="t136" style="left:654.3px;top:428px;font-size:12.4px;color:#ffffff;transform:scaleX(1.0737);">needed.</div>
<div class="t" id="t137" style="left:9px;top:451px;font-size:6.6px;color:#1f2252;">1</div>
<div class="t" id="t138" style="left:8.7px;top:462px;font-size:6.6px;color:#1f2252;">2</div>
<div class="t" id="t139" style="left:8.7px;top:474px;font-size:6.6px;color:#1f2252;">3</div>
<div class="t" id="t140" style="left:8.7px;top:485px;font-size:6.6px;color:#1f2252;">4</div>
<div class="t" id="t141" style="left:15.8px;top:450px;font-size:9.82px;color:#1f2252;transform:scaleX(0.8815);">Cost estimates will change as project engineering progresses.</div>
<div class="t" id="t142" style="left:15.8px;top:460px;font-size:9.82px;color:#1f2252;transform:scaleX(0.8718);">Austin City Council has already committed $104M to Roadway Elements and $15.4M for 100% design.</div>
<div class="t" id="t143" style="left:15.8px;top:470px;font-size:9.82px;color:#1f2252;transform:scaleX(0.8723);">Phase 2-5 (Cap Decks and Amenities) will be funded as partnerships are identified.</div>
<div class="t" id="t144" style="left:15.8px;top:481px;font-size:9.82px;color:#1f2252;transform:scaleX(0.8726);">Phase 2 cap decks added via change order or separate contract after TxDOT letting may increase deck costs by 35% to 100% or more. Phase 2 construction</div>
<div class="t" id="t145" style="left:15.8px;top:491px;font-size:9.82px;color:#1f2252;transform:scaleX(0.8706);">estimates assume allowing for two-story buildings throughout. Partners can potentially realize significant cost savings by tailoring deck loading to specific amenity concepts.</div>
<div class="t" id="t146" style="left:366.9px;top:512px;font-size:11.4px;color:#ffffff;">Updated to reflect new TxDOT cost estimates and updated staff-estimates for amenities. 01/29/2026</div>
<div class="t" id="t147" style="left:905.72px;top:513px;font-size:10px;color:#ffffff;">9</div>
</div></body></html>
